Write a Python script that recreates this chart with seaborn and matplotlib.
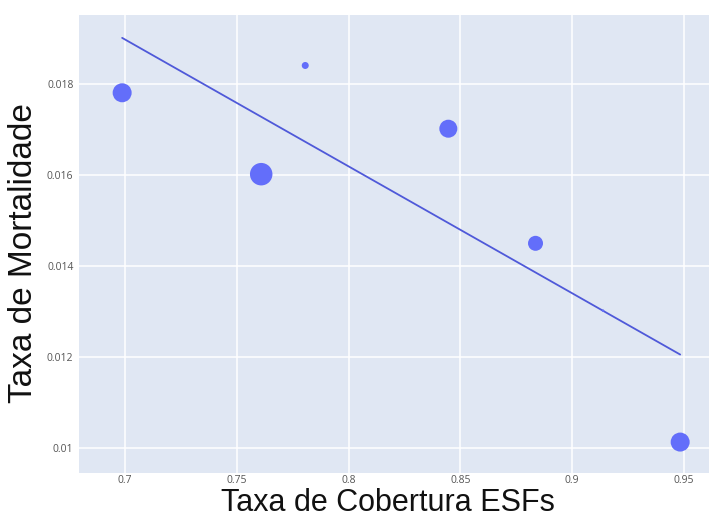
import pandas as pd
import matplotlib
matplotlib.use("Agg")
import matplotlib.pyplot as plt
import seaborn as sns

# dados
cobertura = [0.6987, 0.7609, 0.7806, 0.8446, 0.8836, 0.9138, 0.9483]
mortalidade = [0.01781, 0.01602, 0.01841, 0.01702, 0.01450, 0.01302, 0.01013]
peso = [361, 506, 49, 324, 225, 6, 361]

x_ticks = [0.7, 0.75, 0.8, 0.85, 0.9, 0.95]
x_labels = ["0.7", "0.75", "0.8", "0.85", "0.9", "0.95"]
y_ticks = [0.01, 0.012, 0.014, 0.016, 0.018]
y_labels = ["0.01", "0.012", "0.014", "0.016", "0.018"]

df = pd.DataFrame({
    "cobertura": cobertura,
    "mortalidade": mortalidade,
    "peso": peso
})

sns.set_theme(style="whitegrid")
plt.rcParams["font.family"] = ["Liberation Sans", "DejaVu Sans"]

fig = plt.figure(figsize=(7.11, 5.18), dpi=100)
ax = fig.add_axes([79 / 711, 1 - 473 / 518, 630 / 711, 458 / 518])
ax.set_facecolor("#E0E7F3")

k = 0.72 ** 2
sns.regplot(
    x="cobertura", y="mortalidade", data=df,
    scatter=False, ci=None, truncate=True,
    line_kws={"color": "#4F59D9", "linewidth": 1.3, "zorder": 3}, ax=ax
)
sns.scatterplot(
    x="cobertura", y="mortalidade", data=df,
    size="peso", sizes=(min(peso) * k, max(peso) * k),
    size_norm=(min(peso), max(peso)),
    color="#636EFA", linewidth=0, alpha=1, legend=False, ax=ax, zorder=4
)

ax.set_xlim(0.6794, 0.9612)
ax.set_ylim(0.00945, 0.01952)
ax.set_xticks(x_ticks)
ax.set_xticklabels(x_labels, family=["Open Sans", "DejaVu Sans"], fontsize=7.5, color="#555555")
ax.set_yticks(y_ticks)
ax.set_yticklabels(y_labels, family=["Open Sans", "DejaVu Sans"], fontsize=7.5, color="#555555")
ax.tick_params(axis="x", length=0, pad=1.5)
ax.tick_params(axis="y", length=0, pad=4)
ax.grid(True, color="white", linewidth=1.1)
for s in ax.spines.values():
    s.set_visible(False)

ax.set_xlabel("Taxa de Cobertura ESFs", fontsize=22, color="#111111", va="top")
ax.xaxis.set_label_coords(0.49, -15 / 458)
ax.set_ylabel("Taxa de Mortalidade", fontsize=24, color="#111111", va="center", ha="center")
ax.yaxis.set_label_coords(-56 / 630, 0.48)

plt.savefig("out.png", dpi=100)
